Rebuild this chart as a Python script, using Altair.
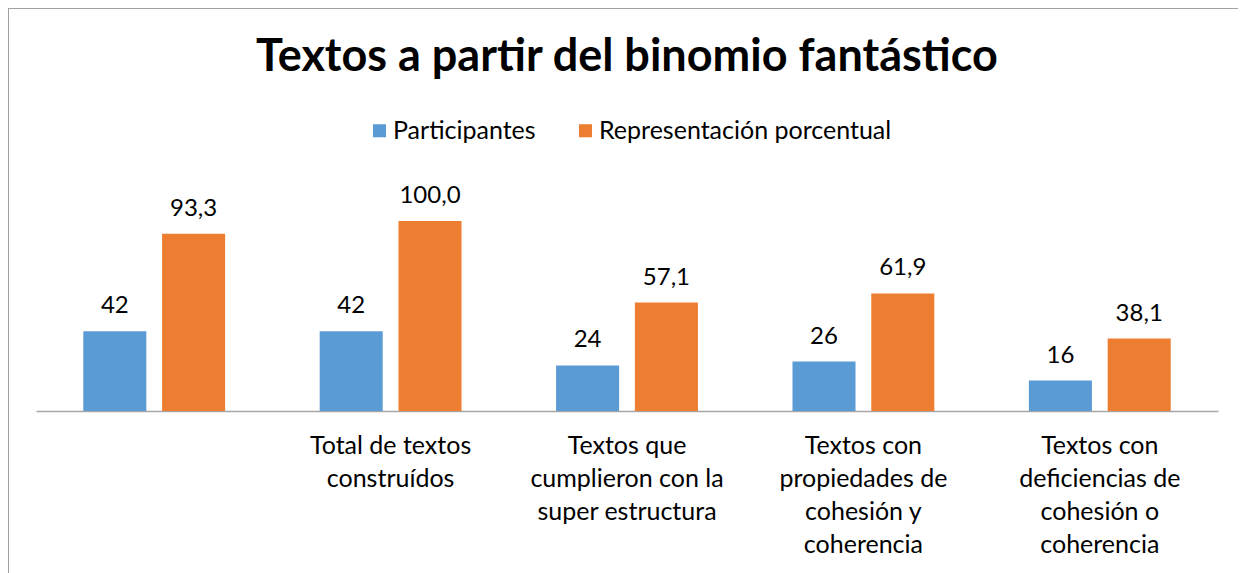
import altair as alt
import pandas as pd

categories = [
    " ",
    "Total de textos|construídos",
    "Textos que|cumplieron con la|super estructura",
    "Textos con|propiedades de|cohesión y|coherencia",
    "Textos con|deficiencias de|cohesión o|coherencia",
]
series = ["Participantes", "Representación porcentual"]
participantes = [42, 42, 24, 26, 16]
porcentaje = [93.3, 100.0, 57.1, 61.9, 38.1]
colors = ["#5B9BD5", "#ED7D31"]

rows = []
for c, p, q in zip(categories, participantes, porcentaje):
    rows.append({"cat": c, "series": series[0], "value": p, "label": f"{p:d}"})
    rows.append({"cat": c, "series": series[1], "value": q,
                 "label": f"{q:.1f}".replace(".", ",")})
df = pd.DataFrame(rows)

FONT = "Lato"
W, H = 1182, 228

base = alt.Chart(df).encode(
    x=alt.X("cat:N", sort=categories,
            scale=alt.Scale(paddingInner=0.4, paddingOuter=0.2),
            axis=alt.Axis(title=None, labelExpr="split(datum.label, '|')",
                          labelAngle=0, labelFontSize=25, labelLineHeight=33,
                          labelPadding=42, ticks=False, domainColor="#A6A6A6",
                          domainWidth=1.5, labelColor="black", labelFont=FONT,
                          labelBaseline="alphabetic", labelLimit=0)),
    xOffset=alt.XOffset("series:N", sort=series,
                        scale=alt.Scale(paddingInner=0.2, paddingOuter=0)),
    y=alt.Y("value:Q", scale=alt.Scale(domain=[0, 120]), axis=None),
)

bars = base.mark_bar().encode(
    color=alt.Color("series:N", sort=series,
                    scale=alt.Scale(domain=series, range=colors),
                    legend=alt.Legend(title=None, orient="none", direction="horizontal",
                                      legendX=331, legendY=-65, symbolType="square",
                                      symbolSize=170, symbolStrokeWidth=0,
                                      labelFontSize=25, labelFont=FONT,
                                      labelColor="black", columnPadding=37,
                                      labelOffset=1, labelLimit=0)),
)

labels = base.mark_text(dy=-18, baseline="alphabetic", fontSize=24, font=FONT,
                        color="black").encode(text="label:N")

border_left = alt.Chart(df).mark_rule(color="#A0A0A0", strokeWidth=1.5).encode(
    x=alt.value(-28), y=alt.value(-175), y2=alt.value(H + 200))
border_top = alt.Chart(df).mark_rule(color="#A0A0A0", strokeWidth=1.5).encode(
    x=alt.value(-28), x2=alt.value(W + 60), y=alt.value(-175))

chart = alt.layer(bars, labels, border_left, border_top).properties(
    width=W, height=H,
    title=alt.TitleParams("Textos a partir del binomio fantástico", fontSize=45,
                          font=FONT, fontWeight="bold", color="black",
                          anchor="middle", offset=0, dy=109, baseline="alphabetic"),
    autosize=alt.AutoSizeParams(type="none"),
    padding={"left": 28, "top": 175, "right": 20, "bottom": 170},
).configure_view(stroke=None)

chart.save("out.html", embed_options={"renderer": "svg", "actions": False})
